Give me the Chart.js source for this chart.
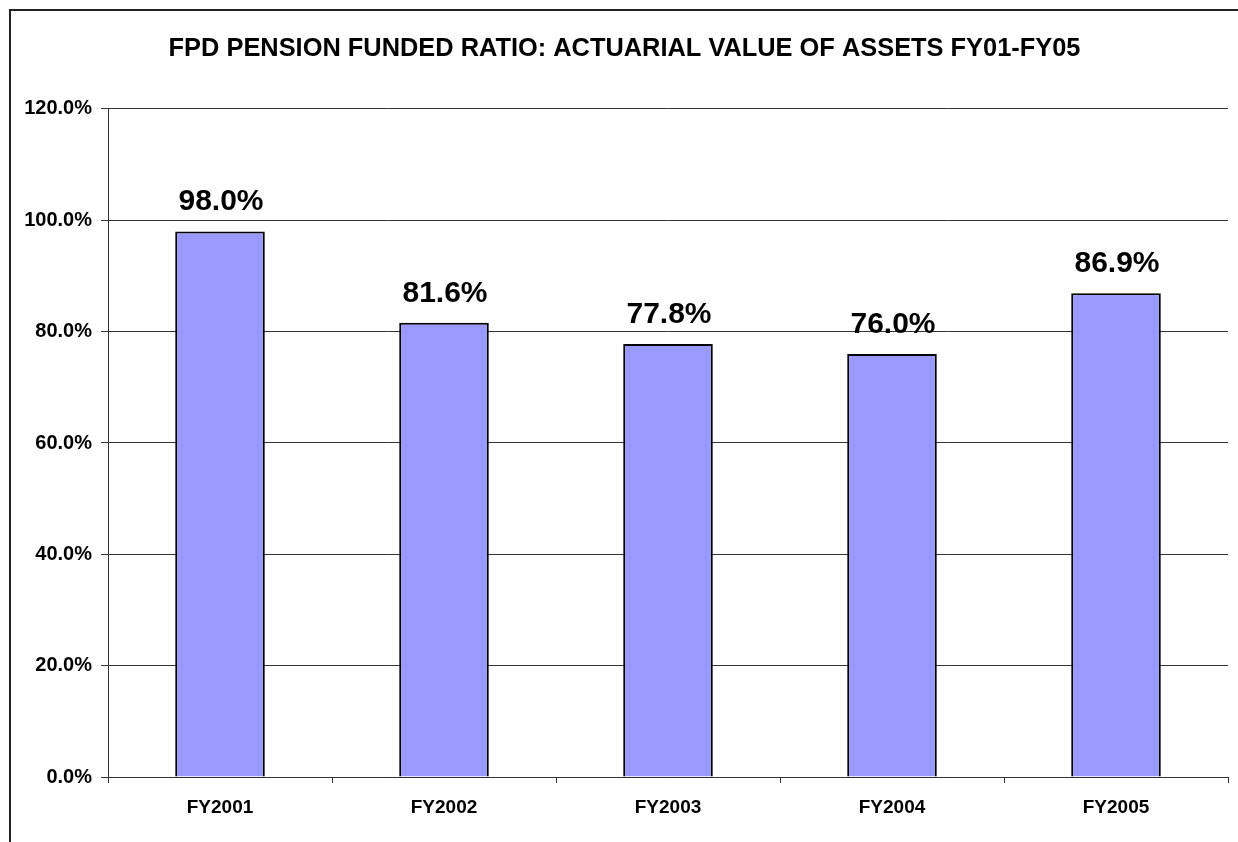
<!DOCTYPE html>
<html>
<head>
<meta charset="utf-8">
<script src="https://cdn.jsdelivr.net/npm/chart.js@4"></script>
<style>
  html, body { margin: 0; padding: 0; background: #fff; overflow: hidden; }
  #wrap { position: relative; width: 1238px; height: 842px; overflow: hidden; }
  #frame { position: absolute; left: 9px; top: 9px; width: 1300px; height: 900px; border: 2px solid #222; box-sizing: border-box; }
  #c { position: absolute; left: 0; top: 0; }
</style>
</head>
<body>
<div id="wrap">
  <div id="frame"></div>
  <canvas id="c" width="1238" height="842"></canvas>
</div>
<script>
const titleText = 'FPD PENSION FUNDED RATIO: ACTUARIAL VALUE OF ASSETS FY01-FY05';
const categories = ['FY2001', 'FY2002', 'FY2003', 'FY2004', 'FY2005'];
const fundedRatio = [98.0, 81.6, 77.8, 76.0, 86.9];
const yMin = 0;
const yMax = 120;
const yStep = 20;

const FONT = "'Liberation Sans', Arial, sans-serif";

const barLabels = {
  id: 'barLabels',
  afterDatasetsDraw(chart) {
    const ctx = chart.ctx;
    const meta = chart.getDatasetMeta(0);
    ctx.save();
    ctx.font = 'bold 30px ' + FONT;
    ctx.fillStyle = '#000';
    ctx.textAlign = 'center';
    ctx.textBaseline = 'alphabetic';
    meta.data.forEach((bar, i) => {
      ctx.fillText(fundedRatio[i].toFixed(1) + '%', bar.x + 1, bar.y - 21);
    });
    ctx.restore();
  }
};

new Chart(document.getElementById('c'), {
  type: 'bar',
  data: {
    labels: categories,
    datasets: [{
      data: fundedRatio,
      backgroundColor: '#9999FF',
      borderColor: '#000',
      borderWidth: 2,
      barPercentage: 0.4,
      categoryPercentage: 1.0
    }]
  },
  options: {
    responsive: false,
    animation: false,
    layout: { padding: { left: 21, right: 10, top: 0, bottom: 0 } },
    plugins: {
      legend: { display: false },
      tooltip: { enabled: false },
      title: {
        display: true,
        text: titleText,
        color: '#000',
        font: { family: FONT, size: 25.4, weight: 'bold', lineHeight: 1.2 },
        padding: { top: 34, bottom: 44.5 }
      }
    },
    scales: {
      x: {
        offset: true,
        grid: {
          offset: true,
          drawOnChartArea: false,
          drawTicks: true,
          tickLength: 6,
          color: '#333'
        },
        border: { display: true, color: '#333', width: 1 },
        ticks: {
          color: '#000',
          font: { family: FONT, size: 19, weight: 'bold' },
          padding: 13,
          maxRotation: 0
        },
        afterFit(scale) { scale.height = 65; }
      },
      y: {
        min: yMin,
        max: yMax,
        grid: {
          color: '#333',
          lineWidth: 1,
          drawTicks: true,
          tickLength: 7
        },
        border: { display: true, color: '#333', width: 1 },
        ticks: {
          stepSize: yStep,
          color: '#000',
          padding: 9,
          font: { family: FONT, size: 20, weight: 'bold' },
          callback: (v) => Number(v).toFixed(1) + '%'
        },
        afterFit(scale) { scale.width = 87; }
      }
    }
  },
  plugins: [barLabels]
});
</script>
</body>
</html>
